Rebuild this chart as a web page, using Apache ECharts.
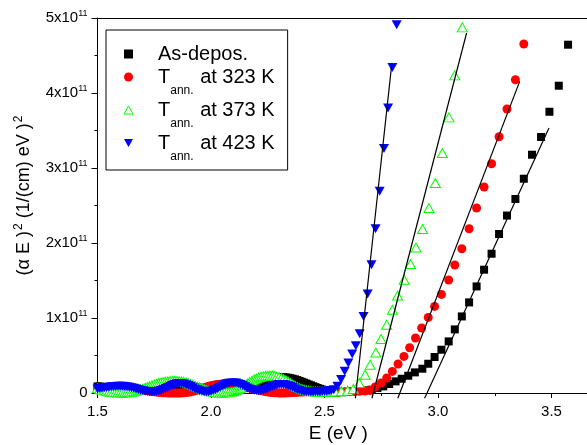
<!DOCTYPE html>
<html>
<head>
<meta charset="utf-8">
<script src="https://cdn.jsdelivr.net/npm/echarts@6/dist/echarts.min.js"></script>
<style>
  html, body { margin: 0; padding: 0; background: #fff; }
  #chart { width: 587px; height: 445px; }
</style>
</head>
<body>
<div id="chart"></div>
<script>
const FONT = '"Liberation Sans", Arial, Helvetica, sans-serif';

// Axis ranges (E in eV, (alpha E)^2 in units of 1e11 (1/(cm) eV)^2)
const xRange = [1.5, 4.0];
const yRange = [0, 5];

// Photon energies sampled in the transparent (interference fringe) region
const fringeEnergy = [
  1.50,1.51,1.52,1.53,1.54,1.55,1.56,1.57,1.58,1.59,1.60,1.61,1.62,1.63,1.64,1.65,1.66,1.67,1.68,1.69,
  1.70,1.71,1.72,1.73,1.74,1.75,1.76,1.77,1.78,1.79,1.80,1.81,1.82,1.83,1.84,1.85,1.86,1.87,1.88,1.89,
  1.90,1.91,1.92,1.93,1.94,1.95,1.96,1.97,1.98,1.99,2.00,2.01,2.02,2.03,2.04,2.05,2.06,2.07,2.08,2.09,
  2.10,2.11,2.12,2.13,2.14,2.15,2.16,2.17,2.18,2.19,2.20,2.21,2.22,2.23,2.24,2.25,2.26,2.27,2.28,2.29,
  2.30,2.31,2.32,2.33,2.34,2.35,2.36,2.37,2.38,2.39,2.40,2.41,2.42,2.43,2.44,2.45,2.46,2.47,2.48,2.49,
  2.50,2.51,2.52,2.53];

// (alpha E)^2 in the fringe region, one value per energy above
const asDeposFringe = [
  0.088,0.086,0.082,0.077,0.072,0.066,0.060,0.054,0.048,0.043,0.038,0.034,0.030,0.028,0.026,0.025,0.025,0.026,0.027,0.029,
  0.031,0.034,0.037,0.041,0.045,0.050,0.055,0.060,0.066,0.071,0.077,0.082,0.087,0.091,0.095,0.097,0.099,0.099,0.098,0.096,
  0.093,0.089,0.085,0.080,0.074,0.068,0.062,0.056,0.050,0.045,0.040,0.036,0.033,0.031,0.029,0.029,0.029,0.031,0.033,0.037,
  0.041,0.047,0.053,0.061,0.070,0.080,0.090,0.101,0.112,0.124,0.135,0.146,0.157,0.167,0.176,0.184,0.191,0.197,0.202,0.205,
  0.208,0.209,0.209,0.207,0.203,0.197,0.190,0.182,0.172,0.161,0.150,0.138,0.126,0.114,0.102,0.090,0.078,0.067,0.056,0.046,
  0.036,0.028,0.020,0.013];
const t323Fringe = [
  0.045,0.050,0.055,0.060,0.065,0.070,0.074,0.077,0.080,0.081,0.082,0.081,0.080,0.077,0.074,0.070,0.065,0.060,0.054,0.048,
  0.042,0.036,0.030,0.025,0.020,0.016,0.012,0.009,0.006,0.004,0.002,0.001,0.000,0.000,0.000,0.000,0.000,0.001,0.003,0.006,
  0.010,0.016,0.022,0.031,0.040,0.050,0.060,0.070,0.080,0.089,0.098,0.104,0.110,0.114,0.117,0.119,0.120,0.119,0.118,0.115,
  0.112,0.107,0.102,0.096,0.090,0.083,0.076,0.068,0.060,0.052,0.045,0.038,0.032,0.026,0.020,0.015,0.010,0.007,0.004,0.002,
  0.000,0.000,0.000,0.001,0.002,0.004,0.006,0.008,0.010,0.012,0.014,0.015,0.016,0.017,0.018,0.018,0.018,0.018,0.018,0.018,
  0.018,0.018,0.018,0.018];
const t373Fringe = [
  0.065,0.055,0.045,0.036,0.028,0.021,0.016,0.012,0.009,0.007,0.006,0.006,0.007,0.009,0.012,0.016,0.022,0.029,0.038,0.048,
  0.058,0.069,0.080,0.091,0.102,0.112,0.122,0.131,0.139,0.146,0.151,0.155,0.158,0.160,0.161,0.160,0.158,0.154,0.148,0.140,
  0.131,0.120,0.109,0.097,0.084,0.072,0.060,0.049,0.039,0.030,0.022,0.016,0.011,0.008,0.006,0.005,0.006,0.008,0.012,0.018,
  0.027,0.039,0.053,0.070,0.088,0.107,0.126,0.145,0.163,0.179,0.194,0.206,0.216,0.223,0.229,0.232,0.233,0.231,0.227,0.220,
  0.211,0.199,0.185,0.169,0.151,0.132,0.114,0.096,0.080,0.066,0.053,0.043,0.035,0.029,0.025,0.022,0.020,0.019,0.019,0.019,
  0.019,0.019,0.020,0.020];
const t423Fringe = [
  0.055,0.060,0.064,0.069,0.074,0.078,0.082,0.085,0.088,0.090,0.091,0.090,0.088,0.084,0.078,0.071,0.062,0.053,0.045,0.037,
  0.030,0.024,0.019,0.016,0.015,0.016,0.020,0.026,0.035,0.047,0.060,0.075,0.090,0.104,0.115,0.122,0.125,0.124,0.120,0.111,
  0.100,0.086,0.070,0.055,0.042,0.031,0.022,0.017,0.015,0.017,0.022,0.032,0.045,0.061,0.078,0.095,0.110,0.122,0.130,0.134,
  0.135,0.132,0.125,0.114,0.100,0.084,0.068,0.055,0.045,0.037,0.032,0.030,0.030,0.036,0.045,0.058,0.072,0.086,0.098,0.107,
  0.112,0.114,0.112,0.106,0.098,0.086,0.072,0.058,0.045,0.034,0.025,0.020,0.017,0.016,0.015,0.015,0.016,0.017,0.018,0.020,
  0.022,0.025,0.028,0.034];

// Absorption edge region
const asDeposEdgeE = [2.547,2.575,2.602,2.628,2.655,2.682,2.708,2.733,2.759,2.785,2.813,2.840,2.869,2.898,2.931,2.957,2.985,3.015,3.047,3.074,3.105,3.137,3.170,3.203,3.236,3.269,3.304,3.341,3.378,3.414,3.454,3.491,3.532,3.573];
const asDeposEdgeY = [0.004,0.010,0.016,0.022,0.028,0.035,0.044,0.066,0.088,0.120,0.155,0.190,0.230,0.275,0.324,0.390,0.480,0.577,0.688,0.848,1.021,1.208,1.421,1.644,1.857,2.120,2.366,2.587,2.857,3.177,3.413,3.750,4.097,4.644];

const t323EdgeE = [2.546,2.567,2.589,2.611,2.633,2.655,2.678,2.701,2.723,2.749,2.774,2.799,2.824,2.850,2.875,2.901,2.928,2.957,2.985,3.015,3.047,3.074,3.105,3.137,3.170,3.203,3.236,3.269,3.304,3.341,3.378];
const t323EdgeY = [0.018,0.018,0.018,0.018,0.020,0.022,0.027,0.035,0.080,0.133,0.200,0.288,0.387,0.488,0.604,0.733,0.867,1.008,1.155,1.315,1.507,1.707,1.924,2.190,2.467,2.747,3.057,3.417,3.787,4.177,4.653];

const t373EdgeE = [2.546,2.575,2.602,2.627,2.653,2.679,2.701,2.726,2.749,2.774,2.799,2.822,2.851,2.879,2.903,2.932,2.960,2.988,3.019,3.048,3.074,3.107];
const t373EdgeY = [0.021,0.024,0.032,0.053,0.133,0.244,0.377,0.540,0.720,0.910,1.110,1.300,1.510,1.720,1.940,2.187,2.467,2.800,3.200,3.675,4.235,4.875];

const t423EdgeE = [2.541,2.557,2.573,2.589,2.605,2.622,2.638,2.655,2.672,2.690,2.707,2.725,2.743,2.762,2.780,2.799,2.818];
const t423EdgeY = [0.045,0.090,0.180,0.290,0.400,0.520,0.630,0.790,1.020,1.320,1.710,2.190,2.690,3.260,3.800,4.340,4.910];

// Linear extrapolations of the edge: [E, value] end points
const asDeposFit = [[2.941, -0.07], [3.489, 3.533]];
const t323Fit = [[2.823, -0.07], [3.360, 4.155]];
const t373Fit = [[2.709, -0.07], [3.126, 4.800]];
const t423Fit = [[2.636, -0.07], [2.796, 4.377]];

const seriesNames = ['As-depos.', 'Tann. at 323 K', 'Tann. at 373 K', 'Tann. at 423 K'];

function toPairs(E, Y) { return E.map((e, i) => [e, Y[i]]); }

const markerDefs = [
  { name: seriesNames[0], data: toPairs(fringeEnergy.concat(asDeposEdgeE), asDeposFringe.concat(asDeposEdgeY)),
    symbol: 'rect', size: 8, rotate: 0, style: { color: '#000000' }, icon: 'rect' },
  { name: seriesNames[1], data: toPairs(fringeEnergy.concat(t323EdgeE), t323Fringe.concat(t323EdgeY)),
    symbol: 'circle', size: 9, rotate: 0, style: { color: '#ff0000' }, icon: 'circle' },
  { name: seriesNames[2], data: toPairs(fringeEnergy.concat(t373EdgeE), t373Fringe.concat(t373EdgeY)),
    symbol: 'triangle', size: [10, 9], rotate: 0, style: { color: '#ffffff', borderColor: '#00ff00', borderWidth: 1 },
    icon: 'path://M5,0L10,9L0,9Z' },
  { name: seriesNames[3], data: toPairs(fringeEnergy.concat(t423EdgeE), t423Fringe.concat(t423EdgeY)),
    symbol: 'triangle', size: [10, 9], rotate: 180, style: { color: '#0000ff' },
    icon: 'path://M0,0L10,0L5,9Z' }
];

const scatterSeries = markerDefs.map(d => ({
  type: 'scatter',
  name: d.name,
  data: d.data,
  symbol: d.symbol,
  symbolSize: d.size,
  symbolRotate: d.rotate,
  itemStyle: Object.assign({ opacity: 1 }, d.style),
  emphasis: { disabled: true },
  z: 2
}));

const fitSeries = [asDeposFit, t323Fit, t373Fit, t423Fit].map((pts, i) => ({
  type: 'line',
  name: 'fit' + i,
  data: pts,
  showSymbol: false,
  symbol: 'none',
  clip: false,
  lineStyle: { color: '#000000', width: 1.2 },
  emphasis: { disabled: true },
  z: 3
}));

function legendLabel(name) {
  if (name.indexOf('Tann.') === 0) {
    return '{t|T}{s|ann.}{m|' + name.slice(5) + '}';
  }
  return '{a|' + name + '}';
}

const option = {
  animation: false,
  backgroundColor: '#ffffff',
  grid: { left: 97.5, top: 18, right: -78, bottom: 52, outerBoundsMode: 'none', containLabel: false },
  legend: {
    data: markerDefs.map(d => ({ name: d.name, icon: d.icon, itemStyle: d.style })),
    orient: 'vertical',
    left: 106,
    top: 30,
    padding: [14, 13, 7, 17.5],
    itemWidth: 9,
    itemHeight: 9,
    itemGap: -7,
    borderColor: '#000000',
    borderWidth: 1,
    backgroundColor: '#ffffff',
    selectedMode: false,
    formatter: legendLabel,
    textStyle: {
      fontFamily: FONT, fontSize: 20, color: '#000000',
      rich: {
        a: { fontFamily: FONT, fontSize: 20, lineHeight: 26, padding: [0, 0, 0, 20], color: '#000' },
        t: { fontFamily: FONT, fontSize: 20, lineHeight: 40, padding: [0, 0, 0, 20], color: '#000' },
        s: { fontFamily: FONT, fontSize: 12, lineHeight: 12, padding: [28, 1, 0, 0], color: '#000' },
        m: { fontFamily: FONT, fontSize: 20, lineHeight: 40, color: '#000' }
      }
    }
  },
  xAxis: [
    {
      type: 'value',
      min: xRange[0], max: xRange[1], interval: 0.5,
      name: 'E (eV )',
      nameLocation: 'middle',
      nameGap: 29,
      nameTextStyle: { fontFamily: FONT, fontSize: 19, color: '#000', padding: [0, 86, 0, 0] },
      axisLine: { show: true, onZero: false, lineStyle: { color: '#000', width: 1 } },
      axisTick: { show: true, inside: false, length: 5, lineStyle: { color: '#000', width: 1 } },
      minorTick: { show: true, splitNumber: 2, length: 3, lineStyle: { color: '#000', width: 1 } },
      axisLabel: {
        fontFamily: FONT, fontSize: 15, color: '#000', margin: 11,
        formatter: v => (Math.abs(v * 2 - Math.round(v * 2)) < 1e-6 && v < 3.9) ? v.toFixed(1) : ''
      },
      splitLine: { show: false },
      minorSplitLine: { show: false }
    },
    {
      type: 'value',
      position: 'top',
      min: xRange[0], max: xRange[1],
      axisLine: { show: true, onZero: false, lineStyle: { color: '#000', width: 1 } },
      axisTick: { show: false },
      axisLabel: { show: false },
      splitLine: { show: false }
    }
  ],
  yAxis: {
    type: 'value',
    min: yRange[0], max: yRange[1], interval: 1,
    name: '{m|(α E )}{s|2}{m| (1/(cm) eV )}{s|2}',
    nameLocation: 'middle',
    nameRotate: 90,
    nameGap: 55,
    nameTextStyle: {
      fontFamily: FONT, fontSize: 18, color: '#000',
      padding: [0, 0, 0, 20],
      rich: {
        m: { fontFamily: FONT, fontSize: 18, lineHeight: 22, color: '#000' },
        s: { fontFamily: FONT, fontSize: 12, lineHeight: 12, padding: [0, 0, 10, 1], color: '#000' }
      }
    },
    axisLine: { show: true, onZero: false, lineStyle: { color: '#000', width: 1 } },
    axisTick: { show: true, inside: false, length: 6, lineStyle: { color: '#000', width: 1 } },
    minorTick: { show: true, splitNumber: 2, length: 3, lineStyle: { color: '#000', width: 1 } },
    axisLabel: {
      fontFamily: FONT, fontSize: 15, color: '#000', margin: 10,
      formatter: v => v === 0 ? '0' : '{b|' + v + 'x10}{s|11}',
      rich: {
        b: { fontFamily: FONT, fontSize: 15, lineHeight: 18, color: '#000' },
        s: { fontFamily: FONT, fontSize: 9, lineHeight: 9, padding: [0, 0, 9, 0], color: '#000' }
      }
    },
    splitLine: { show: false },
    minorSplitLine: { show: false }
  },
  series: scatterSeries.concat(fitSeries)
};

const chart = echarts.init(document.getElementById('chart'), null, { renderer: 'canvas' });
chart.setOption(option);
</script>
</body>
</html>
